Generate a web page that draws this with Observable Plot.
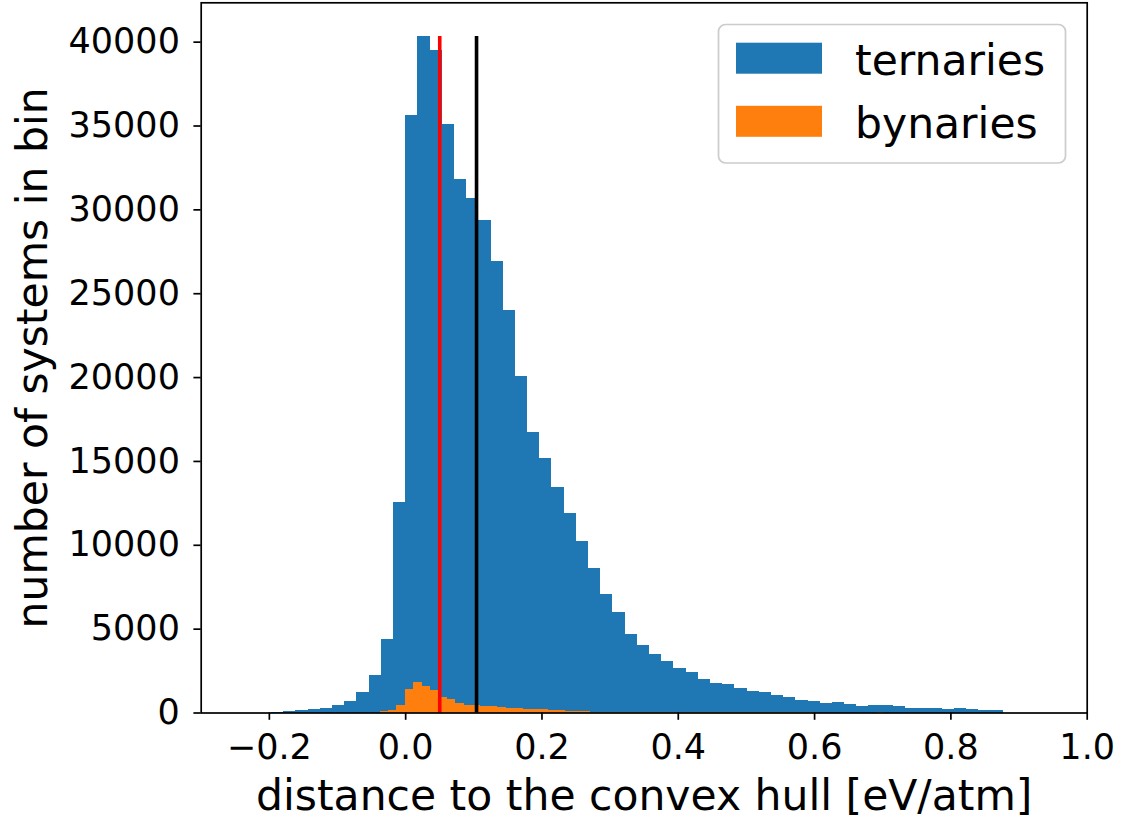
<!DOCTYPE html>
<html>
<head>
<meta charset="utf-8">
<script src="https://cdn.jsdelivr.net/npm/d3@7"></script>
<script src="https://cdn.jsdelivr.net/npm/@observablehq/plot@0.6"></script>
<style>
  html, body { margin: 0; padding: 0; background: #fff; }
  #chart { width: 1124px; height: 819px; }
</style>
</head>
<body>
<div id="chart"></div>
<script>
// Histogram of distances to the convex hull (eV/atom), 60 bins per series.
const seriesNames = ["ternaries", "bynaries"];

const ternaryBinStart = -0.1968;
const ternaryBinWidth = 0.01789;
const ternaryCounts = [
  50, 80, 130, 210, 290, 450, 690, 1220, 2240, 4380,
  12530, 35620, 40330, 39490, 35080, 31800, 30670, 29360, 26900, 23990,
  20060, 16720, 15150, 13440, 11890, 10220, 8610, 7060, 5990, 4680,
  4020, 3490, 3070, 2650, 2410, 2000, 1760, 1700, 1460, 1280,
  1220, 1040, 920, 750, 690, 570, 630, 510, 390, 450,
  450, 390, 270, 270, 270, 210, 270, 210, 150, 150
];

const binaryBinStart = -0.0376;
const binaryBinWidth = 0.01234;
const binaryCounts = [
  110, 170, 450, 1400, 1820, 1580, 1340, 920, 800, 570,
  450, 450, 390, 390, 330, 270, 270, 210, 210, 210,
  150, 150, 90, 70, 60, 50, 50, 40, 40, 30,
  30, 30, 20, 20, 20, 20, 10, 10, 10, 10,
  10, 10, 10, 5, 5, 5, 5, 5, 5, 5,
  5, 5, 0, 0, 0, 0, 0, 0, 0, 2
];

// Reference distances marked with vertical lines (red, black)
const markerPositions = [0.050, 0.104];

const xTicks = [-0.2, 0.0, 0.2, 0.4, 0.6, 0.8, 1.0];
const yTicks = [0, 5000, 10000, 15000, 20000, 25000, 30000, 35000, 40000];

const toBins = (series, start, width, counts) =>
  counts.map((count, i) => ({
    series,
    x1: start + i * width,
    x2: start + (i + 1) * width,
    count
  }));

const ternaryBins = toBins(seriesNames[0], ternaryBinStart, ternaryBinWidth, ternaryCounts);
const binaryBins = toBins(seriesNames[1], binaryBinStart, binaryBinWidth, binaryCounts);
const peak = d3.max(ternaryCounts);

const font = "DejaVu Sans, Liberation Sans, sans-serif";

const chart = Plot.plot({
  width: 1124,
  height: 819,
  marginLeft: 200.7,
  marginRight: 37.3,
  marginTop: 2.3,
  marginBottom: 106.5,
  style: { fontFamily: font, fontSize: "35px", background: "#fff", color: "#000", overflow: "visible" },
  x: { domain: [-0.3, 1.0] },
  y: { domain: [0, peak * 1.05] },
  color: { domain: seriesNames, range: ["#1f77b4", "#ff7f0e"] },
  marks: [
    Plot.rect(ternaryBins, { x1: "x1", x2: "x2", y1: 0, y2: "count", fill: "series", shapeRendering: "crispEdges" }),
    Plot.rect(binaryBins, { x1: "x1", x2: "x2", y1: 0, y2: "count", fill: "series", shapeRendering: "crispEdges" }),
    Plot.ruleX(markerPositions.slice(0, 1), { y1: 0, y2: peak, stroke: "#ff0000", strokeWidth: 3.6 }),
    Plot.ruleX(markerPositions.slice(1, 2), { y1: 0, y2: peak, stroke: "#000000", strokeWidth: 3.6 }),
    Plot.frame({ stroke: "#000", strokeWidth: 1.7 }),
    Plot.axisX({
      ticks: xTicks, tickFormat: d3.format(".1f"), tickSize: 7.3, tickPadding: 14,
      fontSize: 35, strokeWidth: 1.7, label: null
    }),
    Plot.axisY({
      ticks: yTicks, tickFormat: d3.format("d"), tickSize: 7.3, tickPadding: 14,
      fontSize: 35, strokeWidth: 1.7, label: null
    }),
    Plot.text(["distance to the convex hull [eV/atm]"], {
      frameAnchor: "bottom", dy: 96.5, lineAnchor: "bottom", textAnchor: "middle",
      fontSize: 42.5, fill: "#000"
    }),
    Plot.text(["number of systems in bin"], {
      frameAnchor: "left", dx: -154.7, rotate: -90, lineAnchor: "bottom", textAnchor: "middle",
      fontSize: 42.5, fill: "#000"
    })
  ]
});

document.getElementById("chart").appendChild(chart);

// Legend box in the upper right corner of the axes
const color = chart.scale("color");
const svg = d3.select(chart);
const legend = svg.append("g")
  .attr("font-family", font)
  .attr("font-size", 42.5)
  .attr("text-anchor", "start");
legend.append("rect")
  .attr("x", 718.5).attr("y", 24.5)
  .attr("width", 347).attr("height", 138.5)
  .attr("rx", 7).attr("ry", 7)
  .attr("fill", "#fff").attr("fill-opacity", 0.8)
  .attr("stroke", "#cccccc").attr("stroke-width", 1.7);
seriesNames.forEach((name, i) => {
  const cy = 58.2 + i * 63.1;
  legend.append("rect")
    .attr("x", 736).attr("y", cy - 15.5)
    .attr("width", 86).attr("height", 31)
    .attr("fill", color.range[i]);
  legend.append("text")
    .attr("x", 855).attr("y", cy + 16.8)
    .attr("fill", "#000")
    .text(name);
});
</script>
</body>
</html>
